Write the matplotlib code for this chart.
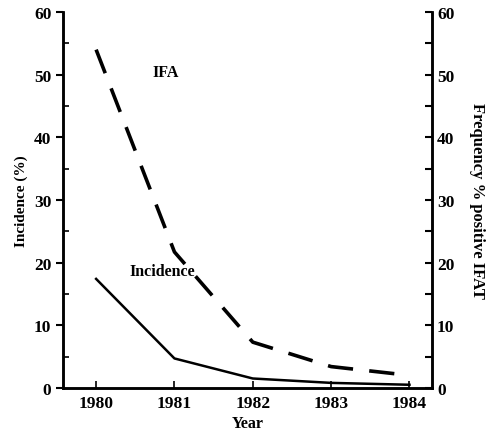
import matplotlib
matplotlib.use("Agg")
import matplotlib.pyplot as plt
from matplotlib.ticker import MultipleLocator

years = [1980, 1981, 1982, 1983, 1984]
incidence = [17.4, 4.7, 1.5, 0.8, 0.5]
ifat = [54.0, 21.7, 7.3, 3.4, 2.0]

plt.rcParams['font.family'] = ['Liberation Serif', 'DejaVu Serif']
plt.rcParams['font.weight'] = 'bold'

fig = plt.figure(figsize=(4.9, 4.35), dpi=100)
ax = fig.add_axes([0.129, 0.106, 0.753, 0.864])
ax2 = ax.twinx()

ax.plot(years, incidence, color='black', lw=1.8)
ax2.plot(years, ifat, color='black', lw=2.6, dashes=(7, 4.5))

for a in (ax, ax2):
    a.set_ylim(0, 60)
    a.set_xlim(1979.58, 1984.29)
    a.spines['top'].set_visible(False)
    a.yaxis.set_major_locator(MultipleLocator(10))
    a.yaxis.set_minor_locator(MultipleLocator(5))
    for s in a.spines.values():
        s.set_linewidth(1.8)

ax.set_xticks(years)
ax.tick_params(axis='x', direction='in', length=5, width=1.2, labelsize=12.5, pad=5)
ax.tick_params(axis='y', which='major', direction='out', length=5, width=1.5, labelsize=12.5)
ax.tick_params(axis='y', which='minor', direction='in', length=4, width=1.2)
ax2.tick_params(axis='y', which='both', direction='in', length=5, width=1.5, labelsize=12.5)

ax.set_xlabel('Year', fontsize=11.5, fontweight='bold', labelpad=3)
ax.set_ylabel('Incidence (%)', fontsize=11, fontweight='bold', labelpad=4)
ax2.set_ylabel('Frequency % positive IFAT', fontsize=12, fontweight='bold',
               rotation=270, labelpad=22)

ax.text(1980.72, 49.8, 'IFA', fontsize=11.5, fontweight='bold')
ax.text(1980.42, 18.0, 'Incidence', fontsize=11.5, fontweight='bold')

fig.savefig('out.png', dpi=100)
